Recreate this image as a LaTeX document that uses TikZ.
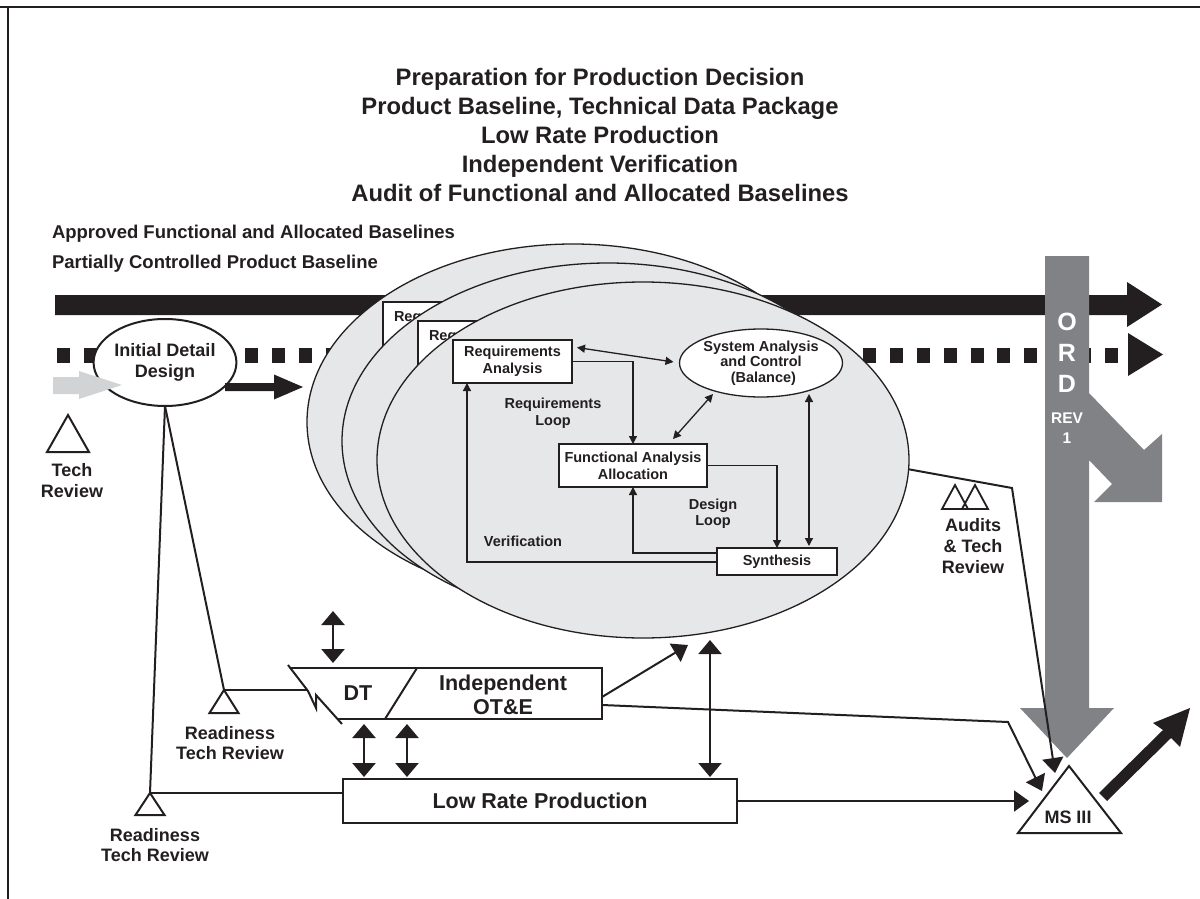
\documentclass[tikz,border=0pt]{standalone}
\usepackage{fontspec}
\setmainfont{Liberation Sans}
\usetikzlibrary{arrows.meta,shapes.geometric,calc}
\definecolor{ink}{HTML}{231F20}
\definecolor{ordgray}{HTML}{808285}
\definecolor{ellfill}{HTML}{E6E7E8}
\definecolor{ltgray}{HTML}{D1D3D4}
\begin{document}
\begin{tikzpicture}[x=1pt,y=-1pt,
  every node/.style={inner sep=0pt, outer sep=0pt},
  t14/.style={font=\bfseries\fontsize{14.5}{17}\selectfont, align=center, text=ink},
  t18/.style={font=\bfseries\fontsize{18}{21}\selectfont, align=center, text=ink},
  t21/.style={font=\bfseries\fontsize{21.5}{24}\selectfont, align=center, text=ink},
  ttl/.style={font=\bfseries\fontsize{23.8}{29}\selectfont, align=center, text=ink},
  sub/.style={font=\bfseries\fontsize{18.5}{22}\selectfont, text=ink},
  ordl/.style={font=\bfseries\fontsize{25}{28}\selectfont, text=white},
  ords/.style={font=\bfseries\fontsize{15.5}{18}\selectfont, text=white},
  box/.style={draw=ink, fill=white, line width=1.6pt, rectangle},
  bigell/.style={ellipse, draw=ink, fill=ellfill, line width=1.3pt, minimum width=532pt, minimum height=356pt},
  thin/.style={draw=ink, line width=1.3pt},
  stip/.style={-{Triangle[length=8pt,width=8pt]}},
  dstip/.style={{Triangle[length=8pt,width=8pt]}-{Triangle[length=8pt,width=8pt]}},
  conn/.style={draw=ink, line width=2pt},
  btip/.style={-{Triangle[length=15pt,width=21pt]}},
  dbtip/.style={{Triangle[length=14pt,width=23pt]}-{Triangle[length=14pt,width=23pt]}},
]
\useasboundingbox (0,0) rectangle (1200,899);
% frame
\draw[ink, line width=2.2pt] (0,7) -- (1200,7);
\draw[ink, line width=2.2pt] (8,7) -- (8,899);

% titles
\node[ttl] (title) at (600,135) {Preparation for Production Decision\\Product Baseline, Technical Data Package\\Low Rate Production\\Independent Verification\\Audit of Functional and Allocated Baselines};
\node[sub, anchor=base west] (appr) at (52,238.5) {Approved Functional and Allocated Baselines};
\node[sub, anchor=base west] (part) at (52,268.5) {Partially Controlled Product Baseline};

% baseline block arrows
\fill[ink] (55,295) -- (1127,295) -- (1127,282) -- (1162,304.5) -- (1127,327) -- (1127,315) -- (55,315) -- cycle;
\draw[ink, line width=15pt, dash pattern=on 13pt off 13.87pt] (57,355.5) -- (1125,355.5);
\fill[ink] (1128,333) -- (1163,354.5) -- (1128,376) -- cycle;

% ellipse stack
\node[bigell] (be) at (573,422) {};
\node[box, minimum width=119pt, minimum height=43pt] (bra) at (442.5,323.5) {};
\node[t14, anchor=base west] (braT) at ($(bra.north west)+(11,19)$) {Req};
\node[bigell] (me) at (608,441) {};
\node[box, minimum width=119pt, minimum height=43pt] (mra) at (477.5,342.5) {};
\node[t14, anchor=base west] (mraT) at ($(mra.north west)+(11,19)$) {Req};
\node[bigell] (fe) at (643,460) {};

\node[box, minimum width=119pt, minimum height=43pt, t14] (ra) at (512.5,361.5) {Requirements\\Analysis};
\node[ellipse, draw=ink, fill=white, line width=1.3pt, minimum width=134pt, minimum height=68pt, t14, font=\bfseries\fontsize{14.5}{15.5}\selectfont] (sa) at (761,363) {System Analysis\\and Control\\\phantom{(}(Balance)};
\node[box, minimum width=148pt, minimum height=43pt, t14] (fa) at (633,465.5) {Functional Analysis\\Allocation};
\node[box, minimum width=120pt, minimum height=27pt, t14] (syn) at (777,561.5) {Synthesis};

\draw[thin, dstip] ($(ra.east)+(5,-14)$) -- ($(sa.west)+(-6,-1)$);
\draw[thin, stip] (ra.east) -| (fa.north);
\draw[thin, dstip] ($(fa.north east)+(-34,-5)$) -- ($(sa.south)+(-48,-3)$);
\draw[thin, stip] (fa.east) -| (syn.north);
\draw[thin, dstip] ($(sa.south)+(48,-3)$) -- ($(syn.north)+(32,-2)$);
\draw[thin, stip] ($(syn.west)+(0,-8.5)$) -| (fa.south);
\draw[thin, stip] ($(syn.west)+(0,0.5)$) -| ($(ra.south west)+(14,0)$);

\node[t14] (rloop) at (553,413) {Requirements\\Loop};
\node[t14, font=\bfseries\fontsize{14.5}{16}\selectfont] (dloop) at (713,514) {Design\\Loop};
\node[t14] (verif) at (523,541) {Verification};

% initial detail design
\node[ellipse, draw=ink, fill=white, line width=2pt, minimum width=136pt, minimum height=87pt, t18] (idd) at (165,362.5) {Initial Detail\\Design};
\fill[ltgray] (53,377) -- (79,377) -- (79,371) -- (122,385) -- (79,399) -- (79,394) -- (53,394) -- cycle;
\fill[ink] (225,383) -- (274,383) -- (274,374.5) -- (303,387) -- (274,399.5) -- (274,391) -- (225,391) -- cycle;

% ORD bar
\fill[ordgray] (1045,256) -- (1089,256) -- (1089,393) -- (1144,450) -- (1162,434) -- (1162,502) -- (1094,502) -- (1112,484) -- (1089,460) -- (1089,708) -- (1114,708) -- (1067,758) -- (1020,708) -- (1045,708) -- cycle;
\node[ordl] (ordO) at (1067,322) {O};
\node[ordl] (ordR) at (1067,353) {R};
\node[ordl] (ordD) at (1067,384) {D};
\node[ords] (ordREV) at (1067,418) {REV};
\node[ords] (ord1) at (1067,438) {1};

% tech review
\coordinate (tr) at (68,415);
\draw[ink, line width=2pt] (tr) -- ++(21,37) -- ++(-42,0) -- cycle;
\node[t18] (trl) at (72,481) {Tech\\Review};

% readiness reviews
\coordinate (r1) at (224,690);
\coordinate (r2) at (150,793);
\draw[conn] (idd.south) -- (r1);
\draw[conn] (idd.south) -- (r2);
\draw[conn] (r1) -- ++(14.5,23) -- ++(-29,0) -- cycle;
\draw[conn] (r2) -- ++(14.5,22) -- ++(-29,0) -- cycle;
\node[t18, font=\bfseries\fontsize{18}{20}\selectfont] (r1l) at (230,743) {Readiness\\Tech Review};
\node[t18, font=\bfseries\fontsize{18}{20}\selectfont] (r2l) at (155,845) {Readiness\\Tech Review};

% DT / OT&E box
\node[minimum width=312pt, minimum height=51pt] (dtb) at (446,693.5) {};
\coordinate (dtzig) at (307,690);
\draw[conn] (dtb.north west) -| (dtb.south east) -- (338,719);
\draw[conn] (288,665) -- (308,691) -- (316,708) -- (316,695) -- (342,724);
\draw[conn] (417,668) -- (385,719);
\node[t21] (dt) at (358,693) {DT};
\node[t21] (ote) at (503,695) {Independent\\OT\&E};
\draw[conn] (r1) -- (dtzig);

% low rate production
\node[box, line width=2pt, minimum width=394pt, minimum height=44pt, t21] (lrp) at (540,801) {Low Rate Production};
\draw[conn] (r2) -- (r2 -| lrp.west);

% double arrows around DT
\draw[conn, line width=2.5pt, dbtip] ($(dtb.north west)+(43,-57)$) -- ($(dtb.north west)+(43,-5)$);
\draw[conn, line width=2.5pt, dbtip] ($(dtb.south west)+(74,5)$) -- ($(lrp.north west)+(21,-2)$);
\draw[conn, line width=2.5pt, dbtip] ($(dtb.south west)+(117,5)$) -- ($(lrp.north west)+(64,-2)$);
\draw[conn, btip] ($(dtb.east)+(0,3.5)$) -- ($(fe.south)+(45,7)$);
\draw[conn, dbtip] ($(lrp.north east)+(-27,-2)$) -- ($(fe.south)+(67,2)$);

% audits
\draw[ink, line width=1.8pt] (955,485) -- (968,509) -- (942,509) -- cycle;
\draw[ink, line width=1.8pt] (975,485) -- (988,509) -- (962,509) -- cycle;
\node[t18] (audl) at (973,546) {Audits\\\& Tech\\Review};

% MS III
\coordinate (msA) at (1069,766);
\draw[conn, fill=white] (msA) -- (1121,833) -- (1018,833) -- cycle;
\node[t18] (ms3) at (1068,817) {MS III};
\coordinate (msin1) at (1029,801);
\coordinate (msin2) at (1042,791);
\coordinate (msin3) at (1055,773);
\coordinate (otebend) at (1008,722);
\coordinate (audbend) at (1012,488);
\draw[conn, btip] (lrp.east) -- (msin1);
\draw[conn, btip] ($(dtb.east)+(0,11.5)$) -- (otebend) -- (msin2);
\draw[conn, btip] (fe.-2) -- (audbend) -- (msin3);
\fill[ink] (1099,793) -- (1163,730) -- (1153,723) -- (1190,708) -- (1180,747) -- (1171,738) -- (1107,801) -- cycle;
\end{tikzpicture}
\end{document}
